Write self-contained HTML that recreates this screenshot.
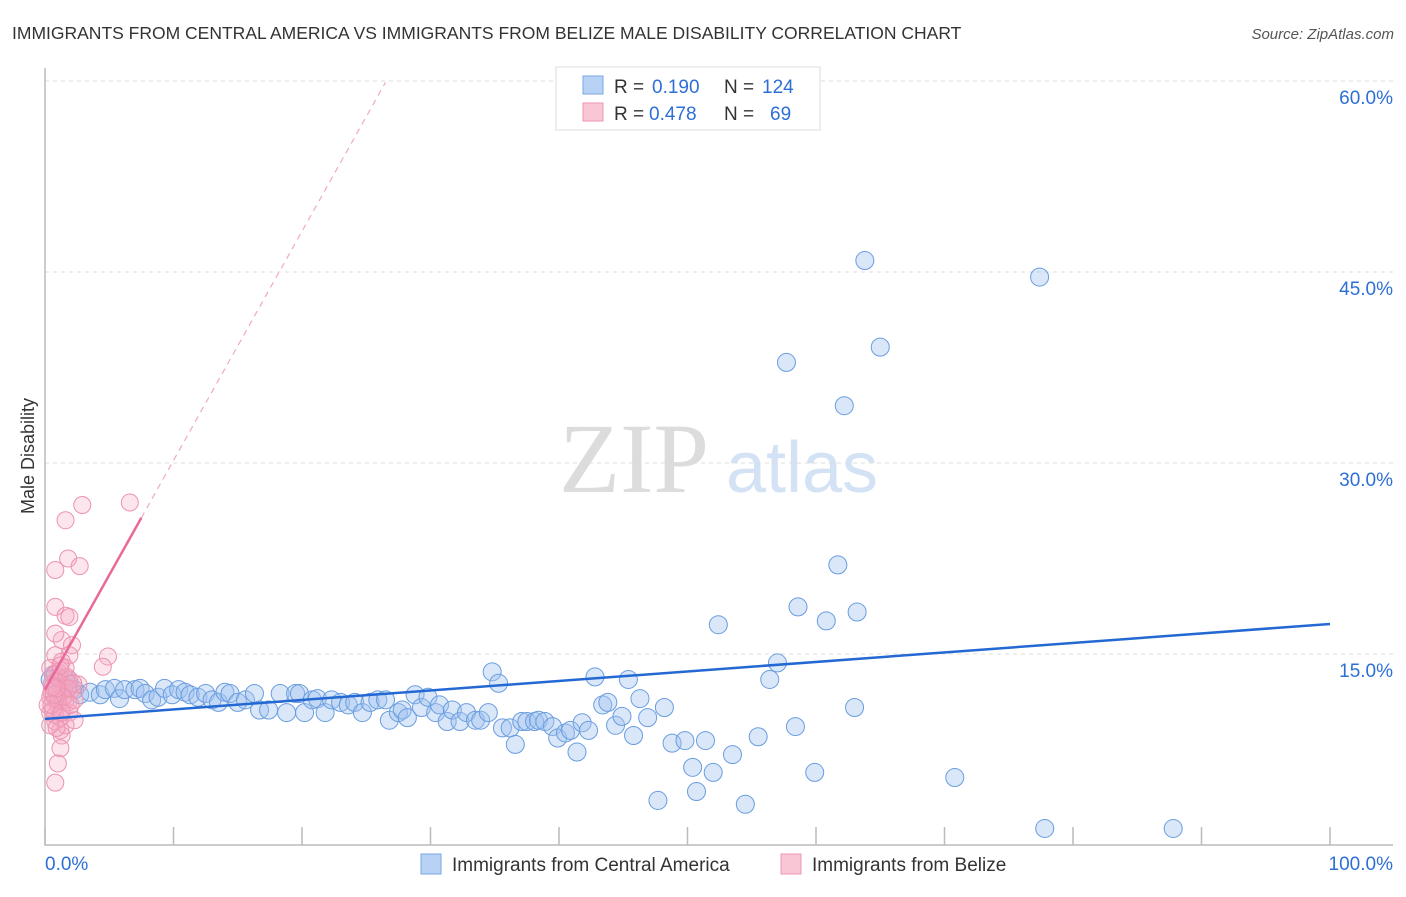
<!DOCTYPE html>
<html><head><meta charset="utf-8"><style>
body{margin:0;background:#fff;font-family:"Liberation Sans",sans-serif}
</style></head><body>
<svg id="c" width="1406" height="892" xmlns="http://www.w3.org/2000/svg">
<text x="12" y="39" font-size="17.5" fill="#333">IMMIGRANTS FROM CENTRAL AMERICA VS IMMIGRANTS FROM BELIZE MALE DISABILITY CORRELATION CHART</text>
<text x="1394" y="39" font-size="15" fill="#555" font-style="italic" text-anchor="end">Source: ZipAtlas.com</text>
<text x="634" y="492" font-size="100" fill="#dcdcdc" font-family="Liberation Serif,serif" text-anchor="middle">ZIP</text>
<text x="802" y="492" font-size="72" fill="#d4e2f5" text-anchor="middle">atlas</text>
<g id="grid"></g><g id="axes"></g><g id="pts"></g><g id="trend"></g>
<text transform="translate(34,456) rotate(-90)" font-size="18" fill="#333" text-anchor="middle">Male Disability</text>
<g>
<rect x="556" y="67" width="264" height="63" fill="#fff" stroke="#ddd"/>
<rect x="583" y="76" width="20" height="18" fill="#b8d2f5" stroke="#7aa6e3"/>
<rect x="583" y="103" width="20" height="18" fill="#f9c6d5" stroke="#ee97b2"/>
<text x="614" y="93" font-size="19" fill="#333">R =</text>
<text x="652" y="93" font-size="19" fill="#2e6fd6">0.190</text>
<text x="724" y="93" font-size="19" fill="#333">N =</text>
<text x="762" y="93" font-size="19" fill="#2e6fd6">124</text>
<text x="614" y="120" font-size="19" fill="#333">R =</text>
<text x="649" y="120" font-size="19" fill="#2e6fd6">0.478</text>
<text x="724" y="120" font-size="19" fill="#333">N =</text>
<text x="770" y="120" font-size="19" fill="#2e6fd6">69</text>
</g>
<g>
<rect x="421" y="854" width="20" height="20" fill="#b8d2f5" stroke="#7aa6e3"/>
<text x="452" y="871" font-size="19" fill="#333">Immigrants from Central America</text>
<rect x="781" y="854" width="20" height="20" fill="#f9c6d5" stroke="#ee97b2"/>
<text x="812" y="871" font-size="19" fill="#333">Immigrants from Belize</text>
</g>
</svg>
<script>
const yTicks=[15,30,45,60];
const yTickLabels=["15.0%","30.0%","45.0%","60.0%"];
const xTicks=[0,10,20,30,40,50,60,70,80,90,100];
const blueX=[0.4,0.8,1.2,1.6,1.9,2.3,2.7,3.5,4.3,4.7,5.4,5.8,6.2,7.0,7.4,7.8,8.3,8.8,9.3,9.9,10.4,10.9,11.3,11.9,12.5,13.0,13.5,14.0,14.4,15.0,15.6,16.3,16.7,17.4,18.3,18.8,19.5,19.8,20.2,20.8,21.2,21.8,22.3,23.0,23.6,24.1,24.7,25.3,25.9,26.5,26.8,27.5,27.8,28.2,28.8,29.3,29.8,30.4,30.7,31.3,31.7,32.3,32.8,33.5,33.9,34.5,34.8,35.3,35.6,36.2,36.6,37.1,37.5,38.1,38.4,38.9,39.5,39.9,40.5,40.9,41.4,41.8,42.3,42.8,43.4,43.8,44.4,44.9,45.4,45.8,46.3,46.9,47.7,48.2,48.8,49.8,50.4,50.7,51.4,52.0,52.4,53.5,54.5,55.5,57.0,56.4,57.7,58.4,58.6,59.9,60.8,61.7,62.2,63.0,63.2,63.8,65.0,70.8,77.4,77.8,87.8];
const blueY=[13.0,13.4,12.2,13.0,12.6,12.2,11.8,12.0,11.8,12.2,12.3,11.5,12.2,12.2,12.3,11.9,11.4,11.6,12.3,11.8,12.2,12.0,11.8,11.6,11.9,11.4,11.2,12.0,11.9,11.2,11.4,11.9,10.6,10.6,11.9,10.4,11.9,11.9,10.4,11.4,11.5,10.4,11.4,11.2,11.0,11.2,10.4,11.2,11.4,11.4,9.8,10.4,10.6,10.0,11.8,10.8,11.6,10.4,11.0,9.7,10.6,9.7,10.4,9.8,9.8,10.4,13.6,12.7,9.2,9.2,7.9,9.7,9.7,9.7,9.8,9.7,9.3,8.4,8.8,9.0,7.3,9.6,9.0,13.2,11.0,11.2,9.4,10.1,13.0,8.6,11.5,10.0,3.5,10.8,8.0,8.2,6.1,4.2,8.2,5.7,17.3,7.1,3.2,8.5,14.3,13.0,37.9,9.3,18.7,5.7,17.6,22.0,34.5,10.8,18.3,45.9,39.1,5.3,44.6,1.3,1.3];
const pinkX=[0.8,1.6,1.8,2.9,6.6,2.7,0.8,1.6,1.9,1.3,0.8,2.1,0.8,1.9,4.9,4.5,0.4,1.0,1.3,0.5,1.2,1.6,0.8,1.0,1.3,0.4,1.9,2.3,0.8,1.2,1.3,1.2,1.0,0.8,1.6,1.8,2.1,2.6,0.4,0.6,0.9,1.3,1.6,0.5,1.9,0.2,0.8,1.2,1.5,2.3,0.9,1.1,1.2,1.7,2.2,0.4,0.9,0.6,1.8,1.4,1.0,0.5,1.6,0.7,1.3,2.0,0.9,1.2,0.6];
const pinkY=[21.6,25.5,22.5,26.7,26.9,21.9,18.7,18.0,17.9,16.1,16.6,15.7,14.9,14.9,14.8,14.0,13.9,13.6,13.0,12.6,12.2,11.8,11.4,11.0,10.6,10.4,10.4,9.8,9.7,9.0,8.6,7.6,6.4,4.9,9.4,11.2,12.2,12.6,11.6,13.4,12.8,14.4,11.4,12.0,13.0,11.0,10.2,10.0,12.3,11.4,11.9,13.1,13.7,13.2,12.7,9.4,9.2,10.6,12.3,11.6,11.4,11.0,13.9,11.8,10.4,11.0,12.3,14.1,12.4];
const blueTrend=[[0,9.9],[100,17.36]];
const pinkSolid=[[0,12.2],[7.5,25.7]];
const pinkDash=[[7.5,25.7],[26.5,59.9]];
const NS="http://www.w3.org/2000/svg";
const X0=45,X1=1330,Y0=845,PY=191/15;
const sx=v=>X0+(X1-X0)*v/100, sy=v=>Y0-v*PY;
function mk(t,a,p){const e=document.createElementNS(NS,t);for(const k in a)e.setAttribute(k,a[k]);p.appendChild(e);return e;}
const grid=document.getElementById('grid'),axes=document.getElementById('axes'),pts=document.getElementById('pts'),tr=document.getElementById('trend');
yTicks.forEach((v,i)=>{
 const l=mk('line',{x1:X0,x2:1393,y1:sy(v),y2:sy(v),stroke:'#ddd','stroke-dasharray':'4,4'},grid);
 
 
 const t=mk('text',{x:1393,y:sy(v)+23,'font-size':19,fill:'#2e6fd6','text-anchor':'end'},grid);
 t.textContent=yTickLabels[i];
 
 
});
const ax=mk('path',{d:`M${X0} 68V${Y0}H1393`,stroke:'#bbb',fill:'none','stroke-width':1.5},axes);


xTicks.forEach(v=>{
 const l=mk('line',{x1:sx(v),x2:sx(v),y1:Y0,y2:Y0-18,stroke:'#bbb','stroke-width':1.5},axes);
 
 
});
const t0=mk('text',{x:45,y:870,'font-size':19,fill:'#2e6fd6'},axes);t0.textContent='0.0%';


const t1=mk('text',{x:1393,y:870,'font-size':19,fill:'#2e6fd6','text-anchor':'end'},axes);t1.textContent='100.0%';


blueX.forEach((x,i)=>{
 const c=mk('circle',{cx:sx(x),cy:sy(blueY[i]),r:9,fill:'rgba(160,196,240,0.4)',stroke:'#6a9ddf','stroke-width':1},pts);
 
 
});
pinkX.forEach((x,i)=>{
 const c=mk('circle',{cx:sx(x),cy:sy(pinkY[i]),r:8.5,fill:'rgba(245,170,195,0.3)',stroke:'#ec93b0','stroke-width':1},pts);
 
 
});
const bl=mk('line',{x1:sx(blueTrend[0][0]),y1:sy(blueTrend[0][1]),x2:sx(blueTrend[1][0]),y2:sy(blueTrend[1][1]),stroke:'#2468d4','stroke-width':2.5},tr);


const ps=mk('line',{x1:sx(pinkSolid[0][0]),y1:sy(pinkSolid[0][1]),x2:sx(pinkSolid[1][0]),y2:sy(pinkSolid[1][1]),stroke:'#e8699a','stroke-width':2.5},tr);


const pd=mk('line',{x1:sx(pinkDash[0][0]),y1:sy(pinkDash[0][1]),x2:sx(pinkDash[1][0]),y2:sy(pinkDash[1][1]),stroke:'#eeaac0','stroke-width':1.2,'stroke-dasharray':'6,5'},tr);


</script>
</body></html>
